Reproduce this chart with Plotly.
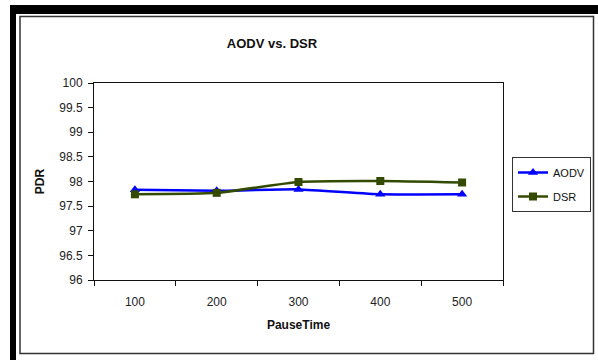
import plotly.graph_objects as go

pause_time = ["100", "200", "300", "400", "500"]
aodv_pdr = [97.83, 97.81, 97.84, 97.74, 97.74]
dsr_pdr = [97.74, 97.77, 97.99, 98.01, 97.98]
y_ticks = [96, 96.5, 97, 97.5, 98, 98.5, 99, 99.5, 100]

W, H = 598, 360
L, R, T, B = 94, 95, 83, 80
pw, ph = W - L - R, H - T - B

def px(x):
    return (x - L) / pw

def py(y):
    return (H - B - y) / ph

font = "Liberation Sans, Arial, sans-serif"

fig = go.Figure()
fig.add_trace(go.Scatter(
    x=pause_time, y=aodv_pdr, name="AODV", mode="lines+markers", legendgroup="a",
    line=dict(color="#0000FF", width=2.5, shape="spline", smoothing=0.4),
    marker=dict(symbol="triangle-up", size=9, color="#0000FF"),
))
fig.add_trace(go.Scatter(
    x=pause_time, y=dsr_pdr, name="DSR", mode="lines+markers", legendgroup="b",
    line=dict(color="#334A00", width=2.5, shape="spline", smoothing=0.5),
    marker=dict(symbol="square", size=8, color="#334A00"),
))

shapes = [
    dict(type="rect", xref="paper", yref="paper", x0=px(10), x1=px(598), y0=py(14), y1=py(5),
         fillcolor="black", line=dict(width=0), layer="above"),
    dict(type="rect", xref="paper", yref="paper", x0=px(10), x1=px(16), y0=py(360), y1=py(5),
         fillcolor="black", line=dict(width=0), layer="above"),
    dict(type="rect", xref="paper", yref="paper", x0=px(20), x1=px(593.5), y0=py(353.5), y1=py(16.5),
         line=dict(color="#333333", width=1.5), layer="above"),
]

fig.update_layout(
    width=W, height=H,
    margin=dict(l=L, r=R, t=T, b=B, autoexpand=False),
    paper_bgcolor="white", plot_bgcolor="white",
    font=dict(family=font, size=12, color="#222222"),
    title=dict(text="<b>AODV vs. DSR</b>", x=px(272), xref="paper", xanchor="center",
               y=1 - 43 / H, yanchor="middle", font=dict(size=13, family=font, color="#111111")),
    showlegend=True,
    legend=dict(x=px(512), y=py(157), xanchor="left", yanchor="top",
                bordercolor="#333333", borderwidth=1, bgcolor="white",
                font=dict(size=11, family=font, color="#111111"),
                traceorder="grouped", tracegroupgap=5, itemwidth=30),
    shapes=shapes,
)
fig.update_xaxes(
    type="category", tickson="boundaries", ticks="outside", ticklen=5, tickcolor="#111111",
    showline=True, linecolor="#111111", linewidth=1, mirror=True,
    showgrid=False, zeroline=False, ticklabelstandoff=11,
    title=dict(text="<b>PauseTime</b>", font=dict(size=12, family=font, color="#111111"), standoff=12),
    range=[-0.5, 4.5],
)
fig.update_yaxes(
    range=[96, 100], tickvals=y_ticks, ticktext=[f"{v:g}" for v in y_ticks],
    ticks="outside", ticklen=5, tickcolor="#111111",
    showline=True, linecolor="#111111", linewidth=1, mirror=True,
    showgrid=False, zeroline=False, ticklabelstandoff=3,
    title=dict(text="<b>PDR</b>", font=dict(size=12, family=font, color="#111111"), standoff=12),
)

fig.write_html("out.html")
